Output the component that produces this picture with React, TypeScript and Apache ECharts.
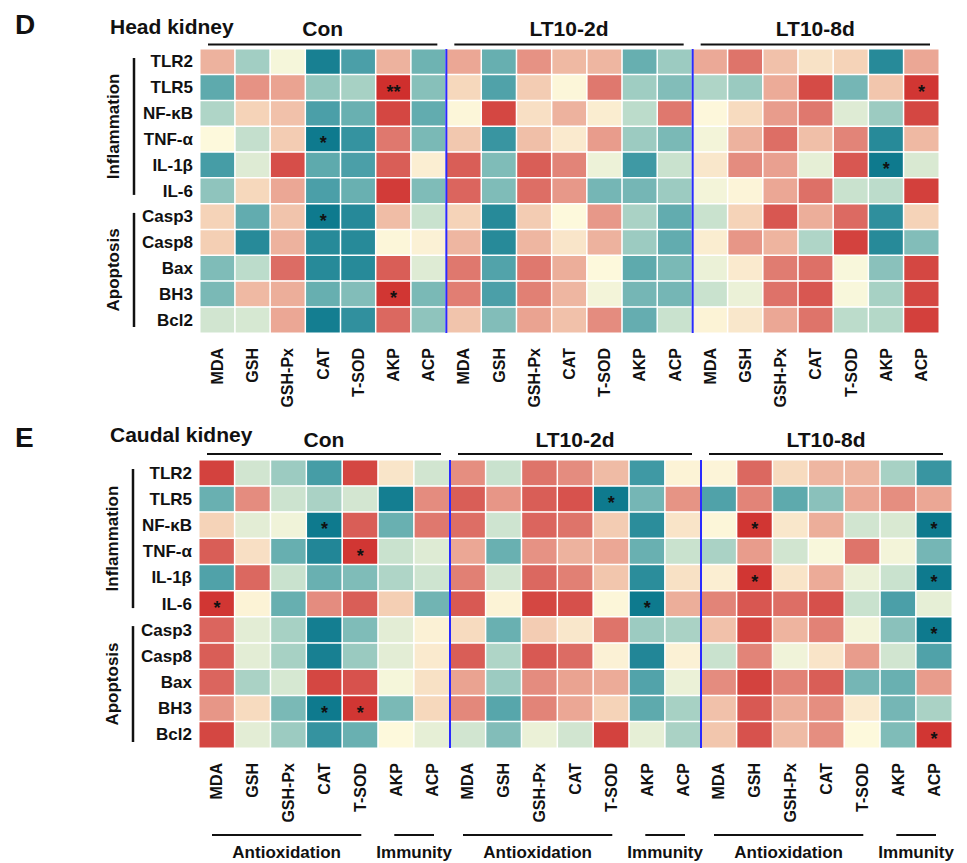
import React, { useEffect, useRef } from 'react';
import * as echarts from 'echarts';

const MARKERS = ['MDA', 'GSH', 'GSH-Px', 'CAT', 'T-SOD', 'AKP', 'ACP'];
const GROUPS = ['Con', 'LT10-2d', 'LT10-8d'];
const GENES = ['TLR2', 'TLR5', 'NF-κB', 'TNF-α', 'IL-1β', 'IL-6', 'Casp3', 'Casp8', 'Bax', 'BH3', 'Bcl2'];

// Head kidney (rows = GENES, cols = MARKERS)
const HEAD_CON = [
  [0.40, -0.35, -0.03, -0.95, -0.70, 0.40, -0.55],
  [-0.62, 0.55, 0.47, -0.40, -0.33, 1.00, -0.45],
  [-0.30, 0.25, 0.33, -0.70, -0.57, 0.90, -0.60],
  [0.00, -0.22, 0.28, -1.00, -0.80, 0.68, -0.50],
  [-0.72, -0.12, 0.87, -0.62, -0.70, 0.80, 0.07],
  [-0.42, 0.22, 0.45, -0.70, -0.57, 0.95, -0.48],
  [0.25, -0.60, 0.32, -1.00, -0.88, 0.35, -0.20],
  [0.27, -0.87, 0.40, -0.87, -0.87, 0.02, 0.05],
  [-0.48, -0.25, 0.74, -0.87, -0.87, 0.80, -0.12],
  [-0.50, 0.37, 0.42, -0.58, -0.47, 0.97, -0.50],
  [-0.17, -0.15, 0.45, -0.97, -0.82, 0.76, -0.42],
];
const HEAD_2D = [
  [0.45, -0.58, 0.55, 0.37, 0.38, -0.58, -0.37],
  [0.22, -0.68, 0.28, 0.02, 0.68, -0.36, -0.47],
  [0.02, 0.90, 0.17, 0.40, 0.08, -0.25, 0.68],
  [0.30, -0.78, 0.34, 0.10, 0.50, -0.37, -0.50],
  [0.80, -0.48, 0.80, 0.62, -0.06, -0.75, -0.20],
  [0.77, -0.48, 0.73, 0.52, -0.52, -0.52, -0.37],
  [0.25, -0.87, 0.28, 0.00, 0.52, -0.32, -0.60],
  [0.38, -0.87, 0.38, 0.13, 0.40, -0.37, -0.60],
  [0.68, -0.67, 0.68, 0.42, 0.00, -0.62, -0.50],
  [0.65, -0.70, 0.64, 0.38, -0.04, -0.52, -0.52],
  [0.32, -0.47, 0.47, 0.33, 0.58, -0.59, -0.20],
];
const HEAD_8D = [
  [0.44, 0.70, 0.33, 0.15, 0.25, -0.87, 0.45],
  [-0.30, -0.38, 0.43, 0.88, -0.52, 0.31, 0.97],
  [0.01, 0.20, 0.50, 0.68, -0.12, -0.37, 0.90],
  [-0.04, 0.40, 0.73, 0.34, 0.62, -0.87, 0.37],
  [0.12, 0.58, 0.48, -0.09, 0.83, -1.00, -0.14],
  [-0.04, 0.03, 0.45, 0.72, -0.20, -0.25, 0.93],
  [-0.20, 0.25, 0.83, 0.42, 0.75, -0.83, 0.25],
  [0.08, 0.53, 0.39, -0.30, 0.92, -0.87, -0.47],
  [-0.07, 0.10, 0.66, 0.72, -0.02, -0.44, 0.90],
  [-0.20, -0.07, 0.71, 0.83, -0.02, -0.33, 0.90],
  [0.04, 0.12, 0.45, 0.70, -0.25, -0.28, 0.93],
];

// Caudal kidney
const CAUDAL_CON = [
  [0.92, -0.17, -0.37, -0.72, 0.90, 0.13, -0.17],
  [-0.57, 0.58, -0.19, -0.32, -0.16, -0.97, 0.58],
  [0.25, -0.10, -0.05, -1.00, 0.80, -0.57, 0.68],
  [0.80, 0.17, -0.58, -0.90, 0.97, -0.20, -0.12],
  [-0.68, 0.76, -0.20, -0.57, -0.48, -0.30, -0.18],
  [0.97, 0.04, -0.58, 0.58, 0.80, 0.27, -0.54],
  [0.77, -0.10, -0.33, -0.97, -0.48, -0.10, 0.05],
  [0.80, -0.10, -0.33, -0.95, -0.38, -0.10, 0.10],
  [0.77, -0.32, -0.15, 0.90, 0.85, -0.03, 0.16],
  [0.53, 0.20, -0.50, -1.00, 0.97, -0.50, 0.22],
  [0.90, -0.10, -0.37, -0.80, -0.57, 0.00, -0.09],
];
const CAUDAL_2D = [
  [0.57, -0.20, 0.70, 0.58, 0.36, -0.75, 0.04],
  [0.80, 0.53, 0.80, 0.85, -1.00, -0.52, 0.54],
  [0.73, -0.18, 0.77, 0.70, 0.28, -0.85, 0.14],
  [0.45, -0.57, 0.55, 0.40, 0.45, -0.57, -0.20],
  [0.64, -0.16, 0.76, 0.64, 0.31, -0.85, 0.16],
  [0.82, 0.04, 0.90, 0.86, 0.02, -1.00, 0.42],
  [0.20, -0.57, 0.28, 0.12, 0.70, -0.37, -0.32],
  [0.80, -0.30, 0.82, 0.74, 0.05, -0.90, 0.05],
  [0.47, -0.37, 0.58, 0.47, 0.43, -0.67, -0.07],
  [0.60, -0.65, 0.62, 0.45, 0.25, -0.62, -0.33],
  [-0.17, -0.47, -0.07, -0.17, 0.92, -0.09, -0.32],
];
const CAUDAL_8D = [
  [0.03, 0.76, 0.20, 0.38, 0.38, -0.33, -0.78],
  [-0.68, 0.62, -0.62, -0.44, 0.45, 0.57, 0.45],
  [0.02, 0.97, 0.12, 0.42, -0.17, -0.14, -1.00],
  [-0.32, 0.50, -0.17, -0.02, 0.70, -0.04, -0.52],
  [0.07, 0.97, 0.14, 0.43, -0.07, -0.20, -1.00],
  [0.62, 0.83, 0.73, 0.86, -0.20, -0.70, -0.09],
  [0.33, 0.90, 0.39, 0.63, -0.04, -0.44, -1.00],
  [-0.20, 0.62, -0.05, 0.14, 0.50, -0.17, -0.68],
  [0.58, 0.92, 0.63, 0.80, -0.52, -0.57, 0.50],
  [0.33, 0.82, 0.42, 0.57, 0.10, -0.52, -0.32],
  [0.31, 0.85, 0.36, 0.57, 0.00, -0.48, 0.97],
];

// significance marks: [group, gene, marker, mark]
const HEAD_STARS = [
  ['Con', 'TLR5', 'AKP', '**'],
  ['Con', 'TNF-α', 'CAT', '*'],
  ['Con', 'Casp3', 'CAT', '*'],
  ['Con', 'BH3', 'AKP', '*'],
  ['LT10-8d', 'TLR5', 'ACP', '*'],
  ['LT10-8d', 'IL-1β', 'AKP', '*'],
];
const CAUDAL_STARS = [
  ['Con', 'NF-κB', 'CAT', '*'],
  ['Con', 'TNF-α', 'T-SOD', '*'],
  ['Con', 'IL-6', 'MDA', '*'],
  ['Con', 'BH3', 'CAT', '*'],
  ['Con', 'BH3', 'T-SOD', '*'],
  ['LT10-2d', 'TLR5', 'T-SOD', '*'],
  ['LT10-2d', 'IL-6', 'AKP', '*'],
  ['LT10-8d', 'NF-κB', 'GSH', '*'],
  ['LT10-8d', 'NF-κB', 'ACP', '*'],
  ['LT10-8d', 'IL-1β', 'GSH', '*'],
  ['LT10-8d', 'IL-1β', 'ACP', '*'],
  ['LT10-8d', 'Casp3', 'ACP', '*'],
  ['LT10-8d', 'Bcl2', 'ACP', '*'],
];

const COLORS = ['#0e7a8e', '#3f99a4', '#7ab9b6', '#bcdccb', '#fdf9dc', '#f5d3b8', '#e89c8c', '#dc6a62', '#cf2f2d'];
const FONT = '"Liberation Sans", Arial, sans-serif';
const INK = '#111';

const COLS = GROUPS.flatMap((g) => MARKERS.map((m) => `${g}|${m}`));

const PANELS = [
  {
    letter: 'D', title: 'Head kidney', blocks: [HEAD_CON, HEAD_2D, HEAD_8D], stars: HEAD_STARS,
    grid: { left: 200, top: 49, width: 739, height: 284 }, headDy: -21, lineDy: -4.5, titleDy: -23, letterDy: -25, bottomLabels: false,
  },
  {
    letter: 'E', title: 'Caudal kidney', blocks: [CAUDAL_CON, CAUDAL_2D, CAUDAL_8D], stars: CAUDAL_STARS,
    grid: { left: 199, top: 460, width: 753, height: 288 }, headDy: -21, lineDy: -6, titleDy: -26, letterDy: -23, bottomLabels: true,
  },
];

function buildData(blocks: number[][][]) {
  const out: number[][] = [];
  blocks.forEach((block, b) =>
    block.forEach((row, r) => row.forEach((v, c) => out.push([b * MARKERS.length + c, r, v])))
  );
  return out;
}

function buildStarMap(stars: string[][]) {
  const m: Record<string, string> = {};
  stars.forEach(([g, gene, mk, s]) => {
    const x = GROUPS.indexOf(g) * MARKERS.length + MARKERS.indexOf(mk);
    const y = GENES.indexOf(gene);
    m[`${x},${y}`] = s;
  });
  return m;
}

export default function App() {
  const ref = useRef<HTMLDivElement>(null);
  useEffect(() => {
    const chart = echarts.init(ref.current!, null, { renderer: 'svg' });
    const option: any = {
      animation: false,
      backgroundColor: '#fff',
      grid: PANELS.map((p) => ({ ...p.grid, containLabel: false })),
      xAxis: PANELS.map((p, i) => ({
        type: 'category', gridIndex: i, data: COLS, position: 'bottom',
        axisLine: { show: false }, axisTick: { show: false }, splitLine: { show: false },
        axisLabel: {
          interval: 0, rotate: 90, margin: 15, fontSize: 16, fontWeight: 'bold', fontFamily: FONT, color: INK,
          formatter: (v: string) => v.split('|')[1],
        },
      })),
      yAxis: PANELS.map((p, i) => ({
        type: 'category', gridIndex: i, data: GENES, inverse: true,
        axisLine: { show: false }, axisTick: { show: false }, splitLine: { show: false },
        axisLabel: { margin: 7, fontSize: 17, fontWeight: 'bold', fontFamily: FONT, color: INK },
      })),
      visualMap: {
        type: 'continuous', min: -1, max: 1, show: false, seriesIndex: [0, 1],
        inRange: { color: COLORS },
      },
      series: PANELS.map((p, i) => {
        const sm = buildStarMap(p.stars);
        return {
          type: 'heatmap', xAxisIndex: i, yAxisIndex: i, data: buildData(p.blocks),
          itemStyle: { borderColor: '#ffffff', borderWidth: 1.5 },
          label: {
            show: true, color: INK, fontSize: 18, fontWeight: 'bold', fontFamily: FONT, offset: [0, 4],
            formatter: (pp: any) => sm[`${pp.data[0]},${pp.data[1]}`] || '',
          },
          emphasis: { disabled: true },
        };
      }),
    };
    chart.setOption(option);

    const graphics: any[] = [];
    const txt = (text: string, x: number, y: number, size: number, align = 'center', rotation = 0) => ({
      type: 'text', x, y, rotation, z: 100,
      style: {
        text, fill: INK, font: `bold ${size}px ${FONT}`,
        align, textAlign: align, verticalAlign: 'middle', textVerticalAlign: 'middle',
      },
    });
    const ln = (x1: number, y1: number, x2: number, y2: number, color = INK, w = 2) => ({
      type: 'line', z: 100, shape: { x1, y1, x2, y2 }, style: { stroke: color, lineWidth: w },
    });

    PANELS.forEach((p, i) => {
      const pt = (c: number, r: number) => chart.convertToPixel({ gridIndex: i }, [c, r]) as number[];
      const p00 = pt(0, 0);
      const p11 = pt(1, 1);
      const cw = p11[0] - p00[0];
      const rh = p11[1] - p00[1];
      const colL = (c: number) => pt(c, 0)[0] - cw / 2;
      const colR = (c: number) => pt(c, 0)[0] + cw / 2;
      const rowT = (r: number) => pt(0, r)[1] - rh / 2;
      const rowB = (r: number) => pt(0, r)[1] + rh / 2;
      const top = rowT(0);
      const bottom = rowB(GENES.length - 1);
      const left = colL(0);

      graphics.push(txt(p.letter, 15, top + p.letterDy, 28, 'left'));
      graphics.push(txt(p.title, 110, top + p.titleDy, 21, 'left'));

      GROUPS.forEach((g, b) => {
        const x1 = colL(b * 7) + 8;
        const x2 = colR(b * 7 + 6) - 9;
        graphics.push(ln(x1, top + p.lineDy, x2, top + p.lineDy));
        graphics.push(txt(g, (x1 + x2) / 2, top + p.headDy, 21));
        if (b > 0) {
          const xb = colL(b * 7);
          graphics.push(ln(xb, top, xb, bottom, '#2a2aff', 2));
        }
        if (p.bottomLabels) {
          const a1 = colL(b * 7) + 13;
          const a2 = colR(b * 7 + 4) - 17;
          const m1 = colL(b * 7 + 5) + 16;
          const m2 = colR(b * 7 + 6) - 16;
          graphics.push(ln(a1, bottom + 87, a2, bottom + 87));
          graphics.push(ln(m1, bottom + 87, m2, bottom + 87));
          graphics.push(txt('Antioxidation', (a1 + a2) / 2, bottom + 104, 17));
          graphics.push(txt('Immunity', (m1 + m2) / 2, bottom + 104, 17));
        }
      });

      const barX = left - 66;
      const textX = left - 87;
      const i1 = rowT(0) + 9, i2 = rowB(5) - 9;
      const a1 = rowT(6) + 9, a2 = rowB(10) - 6;
      graphics.push(ln(barX, i1, barX, i2, INK, 2.5));
      graphics.push(ln(barX, a1, barX, a2, INK, 2.5));
      graphics.push(txt('Inflammation', textX, (i1 + i2) / 2, 17, 'center', Math.PI / 2));
      graphics.push(txt('Apoptosis', textX, (a1 + a2) / 2, 17, 'center', Math.PI / 2));
    });

    chart.setOption({ graphic: { elements: graphics } });
    return () => chart.dispose();
  }, []);
  return (
    <div
      ref={ref}
      style={{ position: 'fixed', left: 0, top: 0, width: 967, height: 863, background: '#fff' }}
    />
  );
}
